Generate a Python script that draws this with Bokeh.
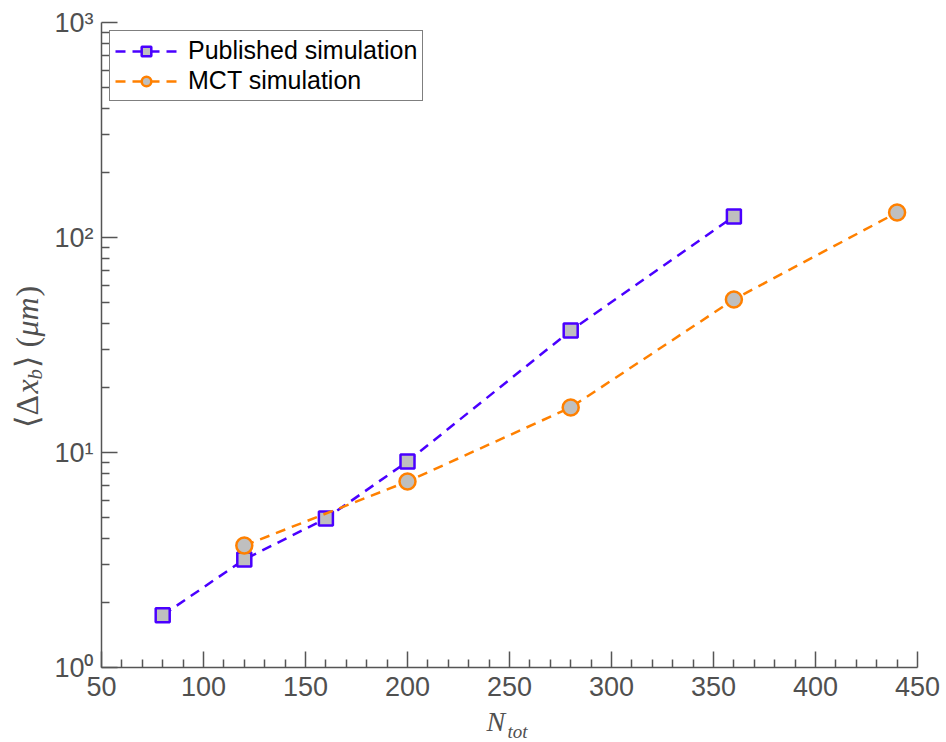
import math
from bokeh.plotting import figure
from bokeh.layouts import row, column
from bokeh.models import Range1d, FixedTicker, Label, Legend
from bokeh.embed import file_html
from bokeh.resources import INLINE

# ---- data ----
pub_n = [80, 120, 160, 200, 280, 360]
pub_dx = [1.75, 3.18, 4.93, 9.08, 36.9, 125.3]
mct_n = [120, 200, 280, 360, 440]
mct_dx = [3.69, 7.33, 16.2, 51.5, 130.7]

x_ticks = [50, 100, 150, 200, 250, 300, 350, 400, 450]
x_minor = [v for v in range(50, 451, 10) if v % 50 != 0]
y_ticks = [1, 10, 100, 1000]
y_minor = [m * 10 ** k for k in range(0, 3) for m in range(2, 10)]
y_tick_labels = ["10\u2070", "10\u00b9", "10\u00b2", "10\u00b3"]

PUB_COLOR = "#4a00ff"
MCT_COLOR = "#ff8000"
MARKER_FILL = "#bfbfbf"
AXIS_COLOR = "#555555"
TEXT_COLOR = "#505050"
SERIF = "Liberation Serif"

W, H = 946, 742
YSTRIP_W = 48
XSTRIP_H = 35
BASELINE_SHIFT = 0.34   # empirical: Bokeh places 'alphabetic' text ~0.34em past the anchor

p = figure(width=W - YSTRIP_W, height=H - XSTRIP_H, output_backend="svg", toolbar_location=None,
           x_range=Range1d(50, 450), y_range=Range1d(1, 1000), y_axis_type="log",
           min_border_left=53, min_border_right=29, min_border_top=22, min_border_bottom=40,
           title=None)
p.outline_line_color = None
p.xgrid.visible = False
p.ygrid.visible = False

p.xaxis.ticker = FixedTicker(ticks=x_ticks, minor_ticks=x_minor)
p.yaxis.ticker = FixedTicker(ticks=y_ticks, minor_ticks=y_minor)
p.yaxis.major_label_overrides = {t: lab for t, lab in zip(y_ticks, y_tick_labels)}

for ax in (p.xaxis, p.yaxis):
    ax.axis_line_color = AXIS_COLOR
    ax.axis_line_width = 1.5
    ax.major_tick_line_color = AXIS_COLOR
    ax.minor_tick_line_color = AXIS_COLOR
    ax.major_tick_line_width = 1.5
    ax.minor_tick_line_width = 1.5
    ax.major_tick_in = 16
    ax.major_tick_out = 0
    ax.minor_tick_in = 8
    ax.minor_tick_out = 0
    ax.major_label_text_font = "Liberation Sans"
    ax.major_label_text_font_size = "27px"
    ax.major_label_text_color = TEXT_COLOR
p.xaxis.major_label_standoff = 9
p.yaxis.major_label_standoff = 8

l1 = p.line(pub_n, pub_dx, line_color=PUB_COLOR, line_width=2.5, line_dash="10 7")
s1 = p.scatter(pub_n, pub_dx, marker="square", size=14, fill_color=MARKER_FILL,
               line_color=PUB_COLOR, line_width=2.5)
l2 = p.line(mct_n, mct_dx, line_color=MCT_COLOR, line_width=2.5, line_dash="10 7")
s2 = p.scatter(mct_n, mct_dx, marker="circle", size=16, fill_color=MARKER_FILL,
               line_color=MCT_COLOR, line_width=2.5)

legend = Legend(items=[("Published simulation", [l1, s1]), ("MCT simulation", [l2, s2])],
                location="top_left", margin=8, padding=5, spacing=1,
                glyph_width=62, glyph_height=24, label_standoff=11,
                label_text_font="Liberation Sans", label_text_font_size="25px",
                label_text_color="black", border_line_color="black",
                border_line_width=1.5, background_fill_alpha=1.0)
p.add_layout(legend)


def strip(frame_w, frame_h, x_range, y_range):
    f = figure(frame_width=frame_w, frame_height=frame_h, output_backend="svg",
               toolbar_location=None, x_range=x_range, y_range=y_range,
               x_axis_location=None, y_axis_location=None,
               min_border=0, min_border_left=0, min_border_right=0,
               min_border_top=0, min_border_bottom=0, title=None)
    f.outline_line_color = None
    f.grid.visible = False
    return f


# ---- y title strip: strip pixels, y counted from the bottom of the page ----
ys = strip(YSTRIP_W, H, Range1d(0, YSTRIP_W), Range1d(0, H))

def ylabel_piece(text, start_y, base_x, size, style):
    ys.add_layout(Label(x=base_x - BASELINE_SHIFT * size, y=H - start_y, text=text,
                        angle=math.pi / 2, text_align="left", text_baseline="alphabetic",
                        text_font=SERIF, text_font_size=f"{size}px",
                        text_font_style=style, text_color=TEXT_COLOR))

ylabel_piece("\u27e8\u0394", 427, 37, 32, "normal")
ylabel_piece("x", 393, 37, 32, "italic")
ylabel_piece("b", 379, 42, 21, "italic")
ylabel_piece("\u27e9 (", 367, 37, 32, "normal")
ylabel_piece("\u03bcm", 336, 37, 32, "italic")
ylabel_piece(")", 296, 37, 32, "normal")

# ---- x title strip: frame aligned with the main frame, shares its x range ----
xs = strip(816, XSTRIP_H, p.x_range, Range1d(0, XSTRIP_H))
X_CENTER = 250          # data position under which the title is centred
X_CENTER_PX = 509

def xlabel_piece(text, start_px, base_y, size):
    xs.add_layout(Label(x=X_CENTER, x_offset=start_px - X_CENTER_PX,
                        y=H - base_y + BASELINE_SHIFT * size, text=text,
                        text_align="left", text_baseline="alphabetic",
                        text_font=SERIF, text_font_size=f"{size}px",
                        text_font_style="italic", text_color=TEXT_COLOR))

xlabel_piece("N", 486, 731, 28)
xlabel_piece("tot", 507, 737, 19)

layout = row(ys, column(p, xs, spacing=0), spacing=0)
open("out.html", "w").write(file_html(layout, INLINE))
